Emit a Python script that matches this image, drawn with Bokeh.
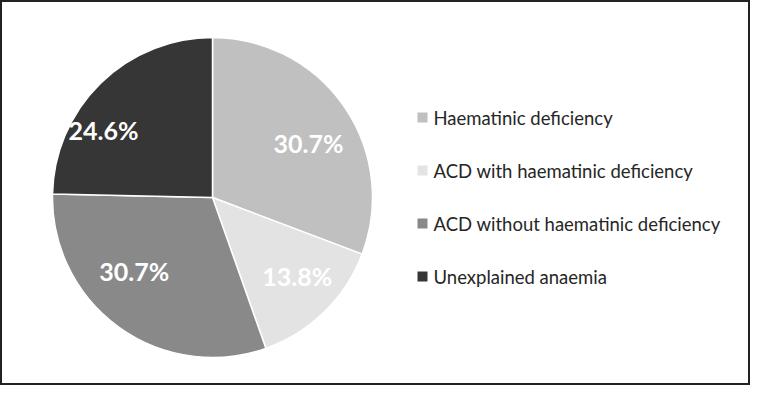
import math
from bokeh.plotting import figure
from bokeh.models import ColumnDataSource, Range1d
from bokeh.core.properties import value
from bokeh.embed import file_html
from bokeh.resources import INLINE

categories = ["Haematinic deficiency", "ACD with haematinic deficiency",
              "ACD without haematinic deficiency", "Unexplained anaemia"]
percents = [30.7, 13.8, 30.7, 24.6]
labels = ["30.7%", "13.8%", "30.7%", "24.6%"]
colors = ["#c0c0c0", "#e3e3e3", "#898989", "#363636"]

W, H = 750, 385
p = figure(width=W, height=H, output_backend="svg", toolbar_location=None,
           x_range=Range1d(0, W), y_range=Range1d(0, H), min_border=0)
p.axis.visible = False
p.grid.visible = False
p.background_fill_color = "white"
p.border_fill_color = "white"
p.outline_line_color = "#222222"
p.outline_line_width = 3

cx, cy, R = 212, 188, 160
total = sum(percents)
starts, ends, mids = [], [], []
a = math.pi / 2
for v in percents:
    span = v / total * 2 * math.pi
    starts.append(a)
    ends.append(a - span)
    mids.append(a - span / 2)
    a -= span

src = ColumnDataSource(dict(start=starts, end=ends, color=colors))
p.wedge(x=cx, y=cy, radius=R, start_angle="start", end_angle="end",
        direction="clock", fill_color="color", line_color="white",
        line_width=1.5, source=src)

# label placement (radius fraction, angle nudge in degrees) per slice
lab_r = [0.69, 0.72, 0.67, 0.80]
lab_da = [-5, 3, -11, 14]
lx = [cx + R * f * math.cos(m + math.radians(d)) for f, m, d in zip(lab_r, mids, lab_da)]
ly = [cy + R * f * math.sin(m + math.radians(d)) for f, m, d in zip(lab_r, mids, lab_da)]
p.text(x=lx, y=ly, text=labels, text_color="white", text_font=value("Lato"),
       text_font_style="bold", text_font_size="25px", text_align="center",
       text_baseline="middle")

# legend
leg_x = 422
leg_y = [268 - 53 * i for i in range(len(categories))]
p.scatter(x=[leg_x] * 4, y=leg_y, marker="square", size=10, fill_color=colors,
          line_color=None)
p.text(x=[leg_x + 11] * 4, y=leg_y, text=categories, text_color="#262626",
       text_font=value("Lato"), text_font_size="18.5px", text_align="left",
       text_baseline="middle")

open("out.html", "w").write(file_html(p, INLINE))
